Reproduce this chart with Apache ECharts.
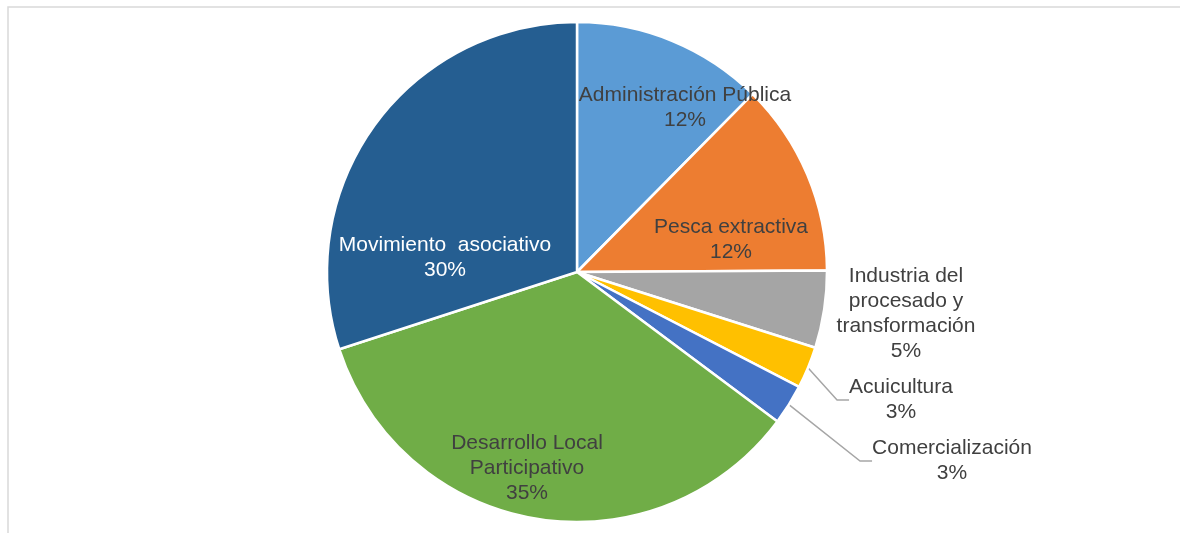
<!DOCTYPE html>
<html>
<head>
<meta charset="utf-8">
<script src="https://cdn.jsdelivr.net/npm/echarts@6/dist/echarts.min.js"></script>
<style>
  html, body { margin: 0; padding: 0; background: #ffffff; }
  #chart { width: 1180px; height: 533px; }
</style>
</head>
<body>
<div id="chart"></div>
<script>
// Sector categories, clockwise from twelve o'clock
const categories = [
  'Administración Pública',
  'Pesca extractiva',
  'Industria del procesado y transformación',
  'Acuicultura',
  'Comercialización',
  'Desarrollo Local Participativo',
  'Movimiento asociativo'
];
// Share of each sector (percent)
const shares = [12.4, 12.5, 5.0, 2.7, 2.6, 34.8, 30.0];
// Wrapped label text for each sector
const labelNames = [
  'Administración Pública',
  'Pesca extractiva',
  'Industria del\nprocesado y\ntransformación',
  'Acuicultura',
  'Comercialización',
  'Desarrollo Local\nParticipativo',
  'Movimiento  asociativo'
];

const colors = ['#5B9BD5', '#ED7D31', '#A5A5A5', '#FFC000', '#4472C4', '#70AD47', '#255E91'];

// Pie geometry
const CX = 577, CY = 272, R = 250;
// Label anchor offsets from the pie centre (px)
const labelOffsets = [
  [108, -164], [154, -32], [329, 42], [324, 128], [375, 189], [-50, 196], [-132, -14]
];
const outsideLabels = [false, false, true, true, true, false, false];
const leaderLines = [false, false, false, true, true, false, false];
const labelColors = ['#404040', '#404040', '#404040', '#404040', '#404040', '#404040', '#ffffff'];

const chart = echarts.init(document.getElementById('chart'), null, { renderer: 'canvas' });

const data = categories.map((name, i) => ({
  name: name,
  value: shares[i],
  itemStyle: { color: colors[i] },
  label: {
    position: outsideLabels[i] ? 'outside' : 'inside',
    color: labelColors[i]
  },
  labelLine: { show: leaderLines[i] }
}));

chart.setOption({
  animation: false,
  graphic: [{
    type: 'rect',
    shape: { x: 8, y: 7, width: 1200, height: 600 },
    style: { fill: 'none', stroke: '#d9d9d9', lineWidth: 1.5 },
    silent: true
  }],
  series: [{
    type: 'pie',
    center: [CX, CY],
    radius: R,
    startAngle: 90,
    clockwise: true,
    percentPrecision: 0,
    avoidLabelOverlap: false,
    itemStyle: { borderColor: '#ffffff', borderWidth: 2.5 },
    label: {
      show: true,
      fontFamily: 'Liberation Sans, Arial, sans-serif',
      fontSize: 21,
      lineHeight: 25,
      align: 'center',
      formatter: p => labelNames[p.dataIndex] + '\n' + p.percent + '%'
    },
    labelLine: {
      show: true,
      length: 20,
      length2: 12,
      lineStyle: { color: '#a6a6a6', width: 1.5 }
    },
    labelLayout: function (params) {
      const o = labelOffsets[params.dataIndex];
      return {
        x: CX + o[0],
        y: CY + o[1],
        align: 'center',
        verticalAlign: 'middle'
      };
    },
    data: data
  }]
});
</script>
</body>
</html>
